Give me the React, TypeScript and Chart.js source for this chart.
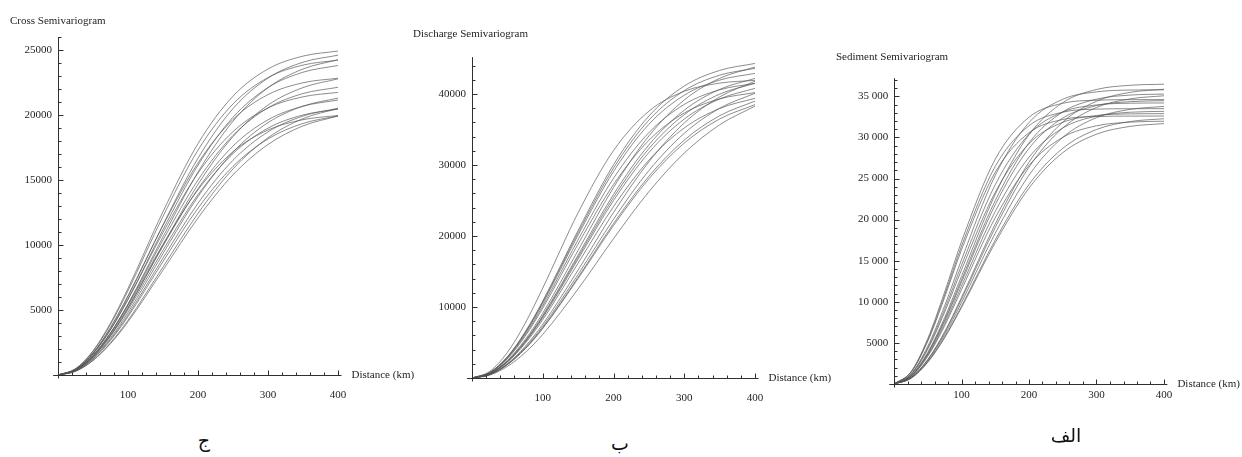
import React, { useEffect, useRef } from 'react';
import { Chart, registerables } from 'chart.js';
Chart.register(...registerables);

// distances (km) at which every curve is sampled
const DIST = [0, 25, 50, 75, 100, 150, 200, 250, 300, 350, 400];
const X_TICKS = [100, 200, 300, 400];

// ج : Cross semivariogram
const CROSS_Y_TICKS = [5000, 10000, 15000, 20000, 25000];
const CROSS_Y_LABELS = ['5000', '10000', '15000', '20000', '25000'];
const CROSS_CURVES = [
  [0, 480, 1860, 4000, 6660, 12570, 17800, 21450, 23540, 24530, 24920],
  [0, 430, 1670, 3590, 6020, 11550, 16680, 20490, 22840, 24060, 24600],
  [0, 380, 1500, 3240, 5460, 10630, 15610, 19520, 22100, 23540, 24250],
  [0, 470, 1810, 3890, 6480, 12210, 17300, 20850, 22880, 23840, 24220],
  [0, 415, 1610, 3480, 5830, 11180, 16140, 19830, 22110, 23290, 23810],
  [0, 360, 1410, 3040, 5130, 9980, 14660, 18340, 20760, 22110, 22780],
  [0, 440, 1710, 3670, 6110, 11510, 16310, 19660, 21570, 22480, 22830],
  [0, 385, 1500, 3230, 5420, 10390, 15000, 18430, 20550, 21650, 22130],
  [0, 420, 1630, 3490, 5810, 10960, 15530, 18720, 20540, 21400, 21740],
  [0, 340, 1320, 2850, 4800, 9340, 13720, 17150, 19410, 20680, 21300],
  [0, 370, 1430, 3090, 5180, 9930, 14330, 17610, 19630, 20680, 21150],
  [0, 290, 1140, 2480, 4210, 8310, 12430, 15850, 18250, 19720, 20500],
  [0, 320, 1270, 2740, 4620, 8990, 13210, 16520, 18700, 19920, 20520],
  [0, 360, 1380, 2990, 5010, 9600, 13870, 17030, 18990, 20000, 20450],
  [0, 280, 1110, 2410, 4090, 8070, 12080, 15400, 17730, 19160, 19920],
  [0, 315, 1230, 2660, 4490, 8730, 12830, 16050, 18160, 19350, 19930],
  [0, 380, 1490, 3200, 5340, 10060, 14250, 17180, 18850, 19640, 19960],
];

// ب : Discharge semivariogram
const DISCHARGE_Y_TICKS = [10000, 20000, 30000, 40000];
const DISCHARGE_Y_LABELS = ['10000', '20000', '30000', '40000'];
const DISCHARGE_CURVES = [
  [0, 930, 3600, 7680, 12670, 23280, 32030, 37580, 40380, 41530, 41920],
  [0, 770, 3000, 6470, 10840, 20790, 30030, 36890, 41120, 43320, 44300],
  [0, 760, 2950, 6370, 10680, 20470, 29560, 36320, 40480, 42650, 43610],
  [0, 635, 2480, 5390, 9130, 17980, 26830, 34090, 39160, 42200, 43800],
  [0, 750, 2910, 6270, 10500, 20140, 29080, 35730, 39830, 41960, 42900],
  [0, 610, 2390, 5190, 8800, 17320, 25850, 32840, 37720, 40650, 42200],
  [0, 720, 2810, 6060, 10160, 19480, 28130, 34560, 38530, 40590, 41500],
  [0, 600, 2350, 5110, 8650, 17040, 25420, 32300, 37090, 39980, 41500],
  [0, 510, 2030, 4430, 7570, 15220, 23310, 30450, 35920, 39590, 41800],
  [0, 590, 2310, 5020, 8500, 16750, 24990, 31750, 36470, 39300, 40800],
  [0, 700, 2720, 5870, 9840, 18870, 27250, 33480, 37320, 39310, 40200],
  [0, 490, 1950, 4250, 7260, 14600, 22360, 29220, 34460, 37990, 40100],
  [0, 570, 2230, 4850, 8210, 16180, 24140, 30670, 35220, 37960, 39400],
  [0, 480, 1890, 4140, 7060, 14200, 21750, 28410, 33510, 36940, 39000],
  [0, 410, 1630, 3570, 6140, 12550, 19620, 26240, 31680, 35660, 38300],
  [0, 470, 1870, 4080, 6970, 14020, 21470, 28050, 33090, 36480, 38500],
];

// الف : Sediment semivariogram
const SEDIMENT_Y_TICKS = [5000, 10000, 15000, 20000, 25000, 30000, 35000];
const SEDIMENT_Y_LABELS = ['5000', '10 000', '15 000', '20 000', '25 000', '30 000', '35 000'];
const SEDIMENT_CURVES = [
  [0, 1000, 3840, 8070, 13100, 23070, 30330, 34230, 35830, 36340, 36470],
  [0, 770, 2980, 6360, 10530, 19470, 26980, 31860, 34400, 35480, 35860],
  [0, 1210, 4590, 9510, 15120, 25380, 31810, 34640, 35540, 35760, 35790],
  [0, 970, 3710, 7810, 12670, 22310, 29330, 33100, 34650, 35150, 35270],
  [0, 750, 2920, 6220, 10300, 19040, 26380, 31150, 33640, 34690, 35060],
  [0, 1470, 5520, 11190, 17320, 27350, 32450, 34150, 34530, 34590, 34600],
  [0, 950, 3630, 7630, 12380, 21810, 28670, 32350, 33870, 34350, 34470],
  [0, 1150, 4380, 9080, 14440, 24250, 30390, 33090, 33950, 34160, 34190],
  [0, 730, 2810, 5990, 9920, 18340, 25400, 30000, 32400, 33410, 33770],
  [0, 1420, 5340, 10830, 16770, 26480, 31420, 33070, 33440, 33490, 33500],
  [0, 910, 3490, 7340, 11910, 20990, 27590, 31140, 32590, 33060, 33170],
  [0, 1110, 4220, 8740, 13890, 23330, 29240, 31830, 32660, 32860, 32890],
  [0, 1390, 5200, 10540, 16320, 25770, 30570, 32180, 32540, 32590, 32600],
  [0, 690, 2690, 5730, 9480, 17530, 24280, 28670, 30960, 31930, 32270],
  [0, 880, 3370, 7080, 11480, 20230, 26590, 30010, 31410, 31860, 31970],
  [0, 680, 2640, 5620, 9300, 17200, 23830, 28140, 30390, 31340, 31680],
];

const FONT_FAMILY = '"Liberation Serif", "Times New Roman", serif';
const TEXT_COLOR = '#1e1e1e';
const CURVE_COLOR = 'rgba(85,85,85,0.68)';
const XMIN = -7;
const XMAX = 406;
const AXIS_END = 405;

type PanelProps = {
  curves: number[][];
  yTicks: number[];
  yLabels: string[];
  yMax: number;
  yMinor: number;
  yMajor: number;
  title: string;
  titleX: number;
  titleY: number;
  cx: number;
  cy: number;
  cw: number;
  ch: number;
  x0: number;
  kx: number;
  y0: number;
  ky: number;
  xLabelY: number;
};

function Panel(p: PanelProps) {
  const ref = useRef<HTMLCanvasElement | null>(null);
  useEffect(() => {
    const canvas = ref.current;
    if (!canvas) return;
    const left = p.x0 - p.cx + XMIN * p.kx;
    const right = p.x0 - p.cx + XMAX * p.kx;
    const top = p.y0 - p.cy - p.yMax * p.ky;
    const bottom = p.y0 - p.cy + 3;
    const yMin = -3 / p.ky;
    const H = 30;
    const xPad = p.xLabelY - 6.6 - (p.y0 + 3);

    const axesPlugin = {
      id: 'mathAxes',
      afterDraw(chart: any) {
        const xs = chart.scales.x;
        const ys = chart.scales.y;
        const ctx = chart.ctx;
        const px0 = Math.round(xs.getPixelForValue(0)) + 0.5;
        const py0 = Math.round(ys.getPixelForValue(0)) + 0.5;
        ctx.save();
        ctx.strokeStyle = '#303030';
        ctx.lineWidth = 1;
        ctx.beginPath();
        ctx.moveTo(xs.getPixelForValue(XMIN), py0);
        ctx.lineTo(xs.getPixelForValue(AXIS_END), py0);
        ctx.moveTo(px0, py0 + 3);
        ctx.lineTo(px0, ys.getPixelForValue(p.yMax));
        ctx.stroke();
        ctx.beginPath();
        for (let v = 20; v <= 400; v += 20) {
          const x = Math.round(xs.getPixelForValue(v)) + 0.5;
          const len = v % 100 === 0 ? 5 : 3;
          ctx.moveTo(x, py0);
          ctx.lineTo(x, py0 - len);
        }
        for (let v = p.yMinor; v <= p.yMax; v += p.yMinor) {
          const y = Math.round(ys.getPixelForValue(v)) + 0.5;
          const len = v % p.yMajor === 0 ? 5 : 3;
          ctx.moveTo(px0, y);
          ctx.lineTo(px0 + len, y);
        }
        ctx.stroke();
        ctx.fillStyle = TEXT_COLOR;
        ctx.font = '11px ' + FONT_FAMILY;
        ctx.textBaseline = 'middle';
        ctx.textAlign = 'left';
        ctx.fillText(p.title, p.titleX - p.cx, p.titleY - p.cy);
        ctx.fillText('Distance (km)', xs.getPixelForValue(AXIS_END) + 10, py0);
        ctx.restore();
      },
    };

    const chart = new Chart(canvas, {
      type: 'line',
      data: {
        datasets: p.curves.map((c) => ({
          data: DIST.map((d, i) => ({ x: d, y: c[i] })),
          borderColor: CURVE_COLOR,
          borderWidth: 1,
          pointRadius: 0,
          fill: false,
          cubicInterpolationMode: 'monotone' as const,
        })),
      },
      options: {
        animation: false,
        responsive: false,
        devicePixelRatio: 1,
        events: [],
        layout: {
          padding: { left: 0, right: p.cw - right, top: top, bottom: p.ch - bottom - H },
        },
        plugins: {
          legend: { display: false },
          tooltip: { enabled: false },
          title: { display: false },
        },
        scales: {
          x: {
            type: 'linear',
            min: XMIN,
            max: XMAX,
            grid: { display: false, drawTicks: false },
            border: { display: false },
            afterBuildTicks: (s: any) => {
              s.ticks = X_TICKS.map((v) => ({ value: v }));
            },
            afterFit: (s: any) => {
              s.height = H;
            },
            ticks: {
              padding: xPad,
              autoSkip: false,
              maxRotation: 0,
              color: TEXT_COLOR,
              font: { family: FONT_FAMILY, size: 11 },
              callback: (v: any) => String(v),
            },
          },
          y: {
            type: 'linear',
            min: yMin,
            max: p.yMax,
            grid: { display: false, drawTicks: false },
            border: { display: false },
            afterBuildTicks: (s: any) => {
              s.ticks = p.yTicks.map((v) => ({ value: v }));
            },
            afterFit: (s: any) => {
              s.width = left;
            },
            ticks: {
              padding: 1,
              autoSkip: false,
              color: TEXT_COLOR,
              font: { family: FONT_FAMILY, size: 11 },
              callback: (_v: any, i: number) => p.yLabels[i] ?? '',
            },
          },
        },
      },
      plugins: [axesPlugin],
    } as any);
    return () => chart.destroy();
  }, []);
  return (
    <canvas
      ref={ref}
      width={p.cw}
      height={p.ch}
      style={{ position: 'absolute', left: p.cx, top: p.cy, width: p.cw, height: p.ch }}
    />
  );
}

const captionStyle: React.CSSProperties = {
  position: 'absolute',
  transform: 'translate(-50%, -50%)',
  fontFamily: '"DejaVu Sans", "Noto Sans", sans-serif',
  fontSize: 19,
  color: '#111',
  whiteSpace: 'nowrap',
  lineHeight: 1,
};

export default function App() {
  return (
    <div
      style={{
        position: 'absolute',
        left: 0,
        top: 0,
        width: 1242,
        height: 457,
        background: '#fff',
        overflow: 'hidden',
      }}
    >
      <Panel
        curves={CROSS_CURVES}
        yTicks={CROSS_Y_TICKS}
        yLabels={CROSS_Y_LABELS}
        yMax={26000}
        yMinor={1000}
        yMajor={5000}
        title="Cross Semivariogram"
        titleX={10}
        titleY={21}
        cx={0}
        cy={0}
        cw={420}
        ch={420}
        x0={58}
        kx={0.7}
        y0={375}
        ky={0.013}
        xLabelY={395}
      />
      <Panel
        curves={DISCHARGE_CURVES}
        yTicks={DISCHARGE_Y_TICKS}
        yLabels={DISCHARGE_Y_LABELS}
        yMax={45200}
        yMinor={2000}
        yMajor={10000}
        title="Discharge Semivariogram"
        titleX={413}
        titleY={34}
        cx={405}
        cy={0}
        cw={440}
        ch={420}
        x0={472}
        kx={0.7075}
        y0={378}
        ky={0.0071}
        xLabelY={398}
      />
      <Panel
        curves={SEDIMENT_CURVES}
        yTicks={SEDIMENT_Y_TICKS}
        yLabels={SEDIMENT_Y_LABELS}
        yMax={37200}
        yMinor={1000}
        yMajor={5000}
        title="Sediment Semivariogram"
        titleX={836}
        titleY={57}
        cx={830}
        cy={0}
        cw={412}
        ch={420}
        x0={894}
        kx={0.675}
        y0={384}
        ky={0.00822}
        xLabelY={395}
      />
      <div style={{ ...captionStyle, left: 204, top: 440 }}>ج</div>
      <div style={{ ...captionStyle, left: 620, top: 443 }}>ب</div>
      <div style={{ ...captionStyle, left: 1066, top: 435 }}>الف</div>
    </div>
  );
}
